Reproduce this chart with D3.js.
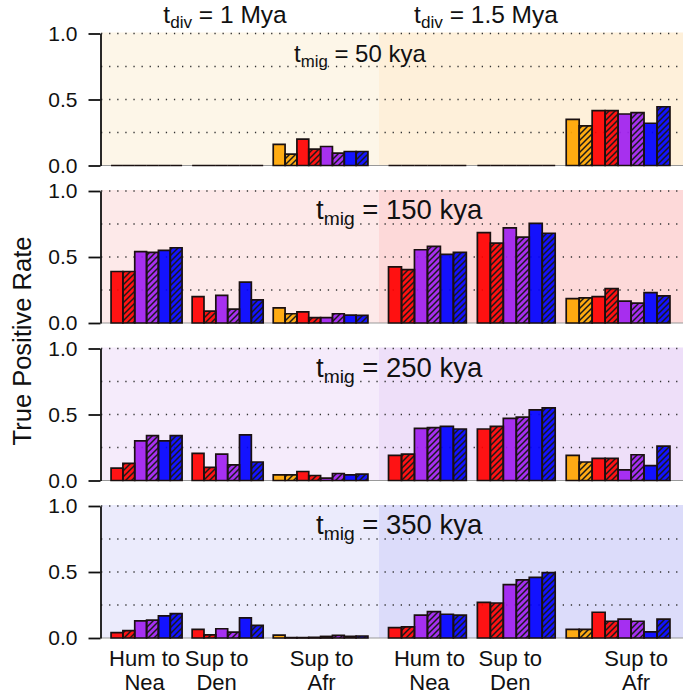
<!DOCTYPE html>
<html>
<head>
<meta charset="utf-8">
<script src="https://cdn.jsdelivr.net/npm/d3@7"></script>
<style>
  html, body { margin: 0; padding: 0; background: #fff; }
  svg { display: block; font-family: "Liberation Sans", Arial, Helvetica, sans-serif; }
</style>
</head>
<body>
<svg id="chart" width="683" height="694"></svg>
<script>
// ---------------- DATA ----------------
const tmigLabels = ["50", "150", "250", "350"];          // kya, one per row
const tdivLabels = ["1", "1.5"];                          // Mya, one per column
const groupLines = [["Hum to", "Nea"], ["Sup to", "Den"], ["Sup to", "Afr"]];
const seriesNames = ["orange", "orange hatched", "red", "red hatched",
                     "purple", "purple hatched", "blue", "blue hatched"];
const seriesColors = ["#FFA500", "#FFA500", "#FF0000", "#FF0000",
                      "#A020F0", "#A020F0", "#0000FF", "#0000FF"];
const seriesHatched = [false, true, false, true, false, true, false, true];
// which series appear in each group
const groupSeries = [[2, 3, 4, 5, 6, 7], [2, 3, 4, 5, 6, 7], [0, 1, 2, 3, 4, 5, 6, 7]];
const yTicks = [0, 0.5, 1.0];
const gridValues = [0.25, 0.5, 0.75, 1.0];

// values[row][column] (row = t_mig, column = t_div)
const humToNea = [
  [[0, 0, 0, 0, 0, 0], [0, 0, 0, 0, 0, 0]],
  [[0.39, 0.39, 0.54, 0.535, 0.55, 0.57], [0.425, 0.405, 0.555, 0.58, 0.52, 0.535]],
  [[0.093, 0.13, 0.30, 0.34, 0.30, 0.34], [0.19, 0.20, 0.395, 0.40, 0.41, 0.39]],
  [[0.04, 0.056, 0.13, 0.135, 0.168, 0.185], [0.078, 0.085, 0.174, 0.20, 0.18, 0.174]]
];
const supToDen = [
  [[0, 0, 0, 0, 0, 0], [0, 0, 0, 0, 0, 0]],
  [[0.20, 0.09, 0.21, 0.105, 0.31, 0.175], [0.685, 0.605, 0.72, 0.65, 0.755, 0.68]],
  [[0.205, 0.10, 0.20, 0.118, 0.345, 0.14], [0.39, 0.41, 0.47, 0.48, 0.535, 0.55]],
  [[0.065, 0.023, 0.07, 0.044, 0.152, 0.095], [0.27, 0.265, 0.405, 0.44, 0.46, 0.495]]
];
const supToAfr = [
  [[0.16, 0.086, 0.20, 0.124, 0.144, 0.094, 0.106, 0.106], [0.35, 0.30, 0.415, 0.415, 0.39, 0.40, 0.32, 0.445]],
  [[0.115, 0.07, 0.085, 0.04, 0.04, 0.07, 0.06, 0.058], [0.185, 0.19, 0.20, 0.26, 0.165, 0.15, 0.23, 0.205]],
  [[0.043, 0.043, 0.068, 0.038, 0.018, 0.053, 0.043, 0.048], [0.19, 0.14, 0.168, 0.168, 0.08, 0.195, 0.113, 0.26]],
  [[0.022, 0.003, 0.003, 0.005, 0.012, 0.02, 0.013, 0.015], [0.065, 0.065, 0.195, 0.127, 0.143, 0.127, 0.047, 0.143]]
];
const groupValues = [humToNea, supToDen, supToAfr];

// ---------------- LAYOUT / STYLE ----------------
const rowTop0 = 33.5, rowStep = 157.5, rowH = 132;
const axisX = 100.5;
const panelBg = [[101, 379], [379, 683]];
const panelBars = [[101, 378], [377.5, 681]];
const bgColors = [
  ["#FDF6E8", "#FEF0DA"],
  ["#FDE9E9", "#FDD9D9"],
  ["#F5EBFB", "#EEDFF9"],
  ["#EBEBFC", "#DCDCFA"]
];
const gapU = 0.85;
const groupStartU = [gapU, gapU + 6 + gapU, gapU + 12 + 2 * gapU];
const totalU = 20 + 4 * gapU;
const tmigLabelX = [294, 316, 316, 316];
const tmigFont = [24, 27.5, 27.5, 27.5];
const titleCenters = [225, 486];
const labelShift = [[-2, -11, 1], [2, -6, 18]];

const svg = d3.select("#chart");
const defs = svg.append("defs");
defs.append("pattern")
  .attr("id", "hatch").attr("patternUnits", "userSpaceOnUse")
  .attr("width", 6).attr("height", 6)
  .append("path")
  .attr("d", "M-1,1 l2,-2 M0,6 l6,-6 M5,7 l2,-2")
  .attr("stroke", "#1a1a1a").attr("stroke-width", 1.5);

function subText(sel, x, y, size, main, sub, rest, anchor) {
  const t = sel.append("text").attr("x", x).attr("y", y)
    .attr("font-size", size).attr("fill", "#111").attr("text-anchor", anchor);
  t.append("tspan").text(main);
  t.append("tspan").attr("font-size", size * 0.7).attr("dy", size * 0.22).text(sub);
  t.append("tspan").attr("dy", -size * 0.22).text(rest);
  return t;
}

tmigLabels.forEach((tm, r) => {
  const top = rowTop0 + r * rowStep;
  const y = d3.scaleLinear().domain([0, 1]).range([top + rowH, top]);
  const g = svg.append("g");

  // backgrounds
  tdivLabels.forEach((td, c) => {
    g.append("rect")
      .attr("x", panelBg[c][0]).attr("y", y(1) - 1)
      .attr("width", panelBg[c][1] - panelBg[c][0])
      .attr("height", y(0) - y(1) + 1)
      .attr("fill", bgColors[r][c]);
  });

  // dotted grid
  g.selectAll("line.grid").data(gridValues).join("line")
    .attr("class", "grid")
    .attr("x1", 101).attr("x2", 683)
    .attr("y1", d => y(d)).attr("y2", d => y(d))
    .attr("stroke", "#333").attr("stroke-width", 1.6)
    .attr("stroke-dasharray", "1.3,6.8").attr("stroke-linecap", "butt");

  // baseline
  g.append("line").attr("x1", 101).attr("x2", 683)
    .attr("y1", y(0)).attr("y2", y(0))
    .attr("stroke", "#999").attr("stroke-width", 1);

  // bars
  tdivLabels.forEach((td, c) => {
    const x = d3.scaleLinear().domain([0, totalU]).range(panelBars[c]);
    groupSeries.forEach((sIdx, gi) => {
      const vals = groupValues[gi][r][c];
      const bars = sIdx.map((s, i) => ({
        s, v: vals[i],
        x0: x(groupStartU[gi] + i), x1: x(groupStartU[gi] + i + 1)
      }));
      const pathD = d => `M${d.x0},${y(0)}V${y(d.v)}H${d.x1}V${y(0)}Z`;
      g.selectAll(null).data(bars).join("path")
        .attr("d", pathD)
        .attr("fill", d => seriesColors[d.s]).attr("fill-opacity", 0.92);
      g.selectAll(null).data(bars.filter(d => seriesHatched[d.s])).join("path")
        .attr("d", pathD).attr("fill", "url(#hatch)");
      g.selectAll(null).data(bars).join("path")
        .attr("d", pathD)
        .attr("fill", "none").attr("stroke", "#1a1010").attr("stroke-width", 1.7)
        .attr("stroke-linejoin", "miter");
    });
  });

  // y axis
  const ax = g.append("g").attr("transform", `translate(${axisX},0)`)
    .call(d3.axisLeft(y).tickValues(yTicks).tickFormat(d3.format(".1f"))
      .tickSize(12).tickSizeOuter(0).tickPadding(11));
  ax.select(".domain").attr("stroke", "#111").attr("stroke-width", 1.8);
  ax.selectAll(".tick line").attr("stroke", "#111").attr("stroke-width", 1.8);
  ax.selectAll(".tick text").attr("font-size", 21).attr("fill", "#111")
    .attr("font-family", "Liberation Sans, Arial, sans-serif");

  // t_mig label
  subText(g, tmigLabelX[r], top + 28, tmigFont[r], "t", "mig", " = " + tm + " kya", "start");
});

// column titles
tdivLabels.forEach((td, c) => {
  subText(svg, titleCenters[c], 23, 24.5, "t", "div", " = " + td + " Mya", "middle");
});

// category labels
tdivLabels.forEach((td, c) => {
  const x = d3.scaleLinear().domain([0, totalU]).range(panelBars[c]);
  groupLines.forEach((lines, gi) => {
    const cx = x(groupStartU[gi] + groupSeries[gi].length / 2) + labelShift[c][gi];
    lines.forEach((ln, li) => {
      svg.append("text").attr("x", cx).attr("y", 666 + li * 24)
        .attr("text-anchor", "middle").attr("font-size", 22).attr("fill", "#111")
        .text(ln);
    });
  });
});

// y-axis title
svg.append("text")
  .attr("transform", "translate(31,341) rotate(-90)")
  .attr("text-anchor", "middle").attr("font-size", 25.5).attr("fill", "#111")
  .text("True Positive Rate");
</script>
</body>
</html>
